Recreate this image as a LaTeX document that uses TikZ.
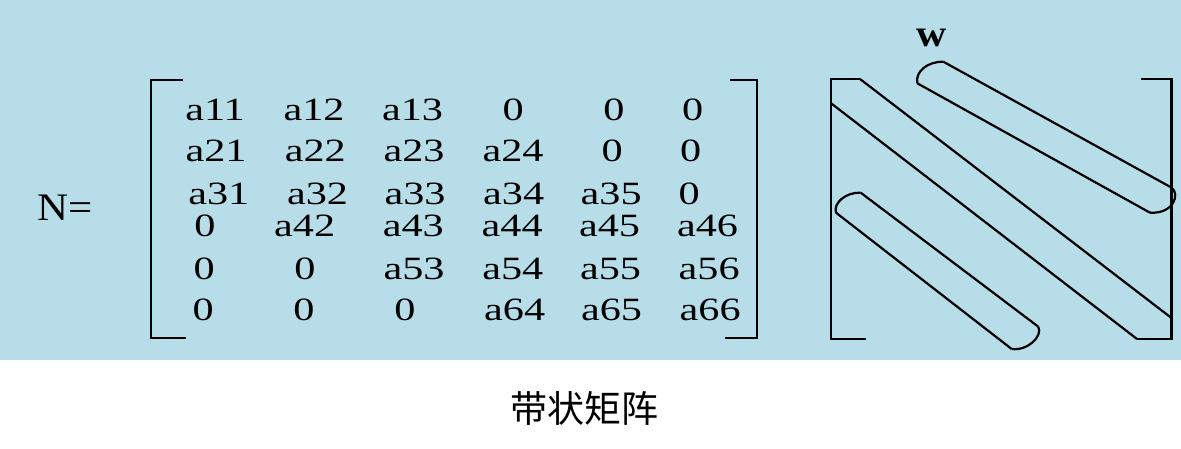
\documentclass[tikz,border=0pt]{standalone}
\usepackage{fontspec}
\newfontfamily\matfont[FakeStretch=1.3]{Liberation Serif}
\newfontfamily\nfont[FakeStretch=1.1]{Liberation Serif}
\newfontfamily\wfont[FakeStretch=1.1]{Liberation Serif Bold}
\newfontfamily\cjk{Noto Sans CJK SC}
\definecolor{bgblue}{RGB}{183,221,232}
\begin{document}
\begin{tikzpicture}[x=1pt,y=-1pt,
  ent/.style={anchor=base,inner sep=0pt,font=\matfont\fontsize{32.5}{33}\selectfont},
  ln/.style={line width=2.2pt,line join=miter}]
\useasboundingbox (0,0) rectangle (1181,449);
\fill[white] (0,0) rectangle (1181,449);
\fill[bgblue] (0,0) rectangle (1181,360);
% N=
\node[anchor=base west,inner sep=0pt,font=\nfont\fontsize{39}{40}\selectfont] (N) at (37,221) {N=};
% matrix entries
\node[ent] (e11) at (215,120.5) {a11};
\node[ent] (e12) at (314,120.5) {a12};
\node[ent] (e13) at (412.5,120.5) {a13};
\node[ent] (e14) at (513.3,120.5) {0};
\node[ent] (e15) at (614,120.5) {0};
\node[ent] (e16) at (692.7,120.5) {0};
\node[ent] (e21) at (216,161.7) {a21};
\node[ent] (e22) at (315.3,161.7) {a22};
\node[ent] (e23) at (414,161.7) {a23};
\node[ent] (e24) at (513,161.7) {a24};
\node[ent] (e25) at (612.3,161.7) {0};
\node[ent] (e26) at (690.7,161.7) {0};
\node[ent] (e31) at (218.8,204.3) {a31};
\node[ent] (e32) at (317.5,204.3) {a32};
\node[ent] (e33) at (415,204.3) {a33};
\node[ent] (e34) at (513.7,204.3) {a34};
\node[ent] (e35) at (611.2,204.3) {a35};
\node[ent] (e36) at (689.3,204.3) {0};
\node[ent] (e41) at (205,236.7) {0};
\node[ent] (e42) at (304.7,236.7) {a42};
\node[ent] (e43) at (413.3,236.7) {a43};
\node[ent] (e44) at (512.2,236.7) {a44};
\node[ent] (e45) at (609.5,236.7) {a45};
\node[ent] (e46) at (707.5,236.7) {a46};
\node[ent] (e51) at (204.3,279.3) {0};
\node[ent] (e52) at (305,279.3) {0};
\node[ent] (e53) at (414,279.3) {a53};
\node[ent] (e54) at (512.8,279.3) {a54};
\node[ent] (e55) at (610.5,279.3) {a55};
\node[ent] (e56) at (709.2,279.3) {a56};
\node[ent] (e61) at (203.3,320.7) {0};
\node[ent] (e62) at (304,320.7) {0};
\node[ent] (e63) at (405,320.7) {0};
\node[ent] (e64) at (514.7,320.7) {a64};
\node[ent] (e65) at (611.5,320.7) {a65};
\node[ent] (e66) at (710.2,320.7) {a66};
% matrix brackets
\draw[ln] (183,80) -- (151,80) -- (151,338.3) -- (185.7,338.3);
\draw[ln] (730,80) -- (756.7,80) -- (756.7,338.3) -- (725,338.3);
% band diagram
\node[anchor=base,inner sep=0pt,font=\wfont\fontsize{38}{39}\selectfont] (w) at (932,47) {w};
\draw[ln] (860,79) -- (830.7,79) -- (830.7,339) -- (866,339);
\draw[ln] (1141,79) -- (1171.5,79) -- (1171.5,339) -- (1137,339);
\draw[ln] (860,79) -- (1171.5,318);
\draw[ln] (830.7,103) -- (1137,339);
% super-diagonal band
\draw[ln] (943.3,61.7) -- (1171.7,187.7);
\draw[ln] (917.3,83.3) -- (1150,212.7);
\draw[ln] (917.3,83.3) .. controls (915,72) and (927,61.5) .. (943.3,61.7);
\draw[ln] (1171.7,187.7) .. controls (1180,194) and (1174,214) .. (1150,212.7);
% sub-diagonal band
\draw[ln] (860.7,192.7) -- (1038.3,326.7);
\draw[ln] (836,212.7) -- (1011.7,349);
\draw[ln] (836,212.7) .. controls (833,203) and (846,192) .. (860.7,192.7);
\draw[ln] (1038.3,326.7) .. controls (1043,336) and (1028,351) .. (1011.7,349);
% caption
\node[inner sep=0pt,font=\cjk\fontsize{37}{39}\selectfont] (cap) at (584,408) {带状矩阵};
\end{tikzpicture}
\end{document}
